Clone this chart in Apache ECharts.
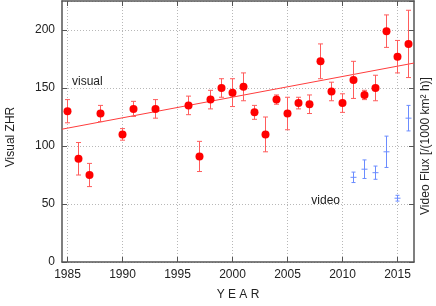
<!DOCTYPE html>
<html>
<head>
<meta charset="utf-8">
<script src="https://cdn.jsdelivr.net/npm/echarts@6/dist/echarts.min.js"></script>
<style>html,body{margin:0;padding:0;background:#fff}#c{width:436px;height:306px}</style>
</head>
<body>
<div id="c"></div>
<script>
// ---- data ----
const visYears = [1985,1986,1987,1988,1990,1991,1993,1996,1997,1998,1999,2000,2001,2002,2003,2004,2005,2006,2007,2008,2009,2010,2011,2012,2013,2014,2015,2016];
const visZHR   = [130,89,75,128,110,132,132,135,91,140,150,146,151,129,110,140,128,137,136,173,147,137,157,144,150,199,177,188];
const visErr   = [10,14,10,7,5,6.5,8,8,13,8,8,12,12,6,15,4,14,5,8,15,8,8,16,4,11,14,14,29];
const vidYears = [2011,2012,2013,2014,2015,2016];
const vidFlux  = [73,80,77,95,55,124];
const vidErr   = [4.5,8,5.7,13.5,2.5,11];
const trendYears = [1984.5,2016.5];
const trendZHR   = [114.5,171.5];
const xTicks = [1985,1990,1995,2000,2005,2010,2015];

const FONT = 'Liberation Sans';
const RED = '#ff0000', RED_ERR = '#ff5c5c', BLUE = '#6b8cff', AXIS = '#555';

function errRender(color, cap, mid) {
  return function (params, api) {
    const x = api.value(0), lo = api.value(1), hi = api.value(2), v = api.value(3);
    const t = api.coord([x, hi]), b = api.coord([x, lo]);
    const st = {stroke: color, lineWidth: 1};
    const ch = [
      {type:'line', shape:{x1:t[0],y1:t[1],x2:b[0],y2:b[1]}, style:st},
      {type:'line', shape:{x1:t[0]-cap,y1:t[1],x2:t[0]+cap,y2:t[1]}, style:st},
      {type:'line', shape:{x1:b[0]-cap,y1:b[1],x2:b[0]+cap,y2:b[1]}, style:st}
    ];
    if (mid) {
      const m = api.coord([x, v]);
      ch.push({type:'line', shape:{x1:m[0]-mid,y1:m[1],x2:m[0]+mid,y2:m[1]}, style:st});
    }
    return {type:'group', children: ch};
  };
}

const visErrData = visYears.map((y,i)=>[y, visZHR[i]-visErr[i], visZHR[i]+visErr[i], visZHR[i]]);
const vidErrData = vidYears.map((y,i)=>[y, vidFlux[i]-vidErr[i], vidFlux[i]+vidErr[i], vidFlux[i]]);

const chart = echarts.init(document.getElementById('c'), null, {renderer:'canvas'});
const xBase = {
  type:'value', min:1984.5, max:2016.5,
  axisLine:{show:true, onZero:false, lineStyle:{color:AXIS, width:1.5}},
  axisTick:{show:true, inside:true, length:5, customValues:xTicks, lineStyle:{color:AXIS, width:1}},
};
const yBase = {
  type:'value', min:0, max:225, interval:50,
  axisLine:{show:true, onZero:false, lineStyle:{color:AXIS, width:1.5}},
  axisTick:{show:true, inside:true, length:5, lineStyle:{color:AXIS, width:1}},
};
chart.setOption({
  animation:false,
  textStyle:{fontFamily:FONT},
  grid:{left:62, right:22, top:1, bottom:42, containLabel:false},
  xAxis:[
    Object.assign({}, xBase, {
      position:'bottom',
      axisLabel:{show:true, customValues:xTicks, margin:7, color:'#222', fontSize:12, fontFamily:FONT,
                 formatter:(v)=>String(v)},
      splitLine:{show:true, lineStyle:{color:'#b8b8b8', type:[1,2], width:1}},
      name:'Y E A R', nameLocation:'middle', nameGap:27,
      nameTextStyle:{color:'#222', fontSize:12, fontFamily:FONT}
    }),
    Object.assign({}, xBase, {
      position:'top',
      axisLabel:{show:false}, splitLine:{show:false}
    })
  ],
  yAxis:[
    Object.assign({}, yBase, {
      position:'left',
      axisLabel:{show:true, margin:7, color:'#222', fontSize:12, fontFamily:FONT, showMaxLabel:false},
      splitLine:{show:true, lineStyle:{color:'#b8b8b8', type:[1,2], width:1}}
    }),
    Object.assign({}, yBase, {
      position:'right',
      axisLabel:{show:false}, splitLine:{show:false}
    })
  ],
  graphic:[
    {type:'text', x:10.5, y:137, rotation:Math.PI/2,
     style:{text:'Visual ZHR', fill:'#222', font:'12px "Liberation Sans"', align:'center', verticalAlign:'middle'}},
    {type:'text', x:426, y:146, rotation:Math.PI/2,
     style:{text:'Video Flux [/(1000 km\u00b2 h)]', fill:'#222', font:'12px "Liberation Sans"', align:'center', verticalAlign:'middle'}},
    {type:'text', x:72, y:82,
     style:{text:'visual', fill:'#222', font:'12px "Liberation Sans"', align:'left', verticalAlign:'middle'}},
    {type:'text', x:340, y:201,
     style:{text:'video', fill:'#222', font:'12px "Liberation Sans"', align:'right', verticalAlign:'middle'}}
  ],
  series:[
    {type:'line', xAxisIndex:0, yAxisIndex:0, data:trendYears.map((y,i)=>[y,trendZHR[i]]),
     symbol:'none', lineStyle:{color:'#ff3c3c', width:1}, z:2},
    {type:'custom', xAxisIndex:0, yAxisIndex:0, renderItem:errRender(RED_ERR, 2.5, 0), data:visErrData, z:3},
    {type:'scatter', xAxisIndex:0, yAxisIndex:0, data:visYears.map((y,i)=>[y,visZHR[i]]),
     symbol:'circle', symbolSize:8, itemStyle:{color:RED, opacity:1}, z:4},
    {type:'custom', xAxisIndex:0, yAxisIndex:0, renderItem:errRender(BLUE, 2, 3), data:vidErrData, z:3}
  ]
});
</script>
</body>
</html>
